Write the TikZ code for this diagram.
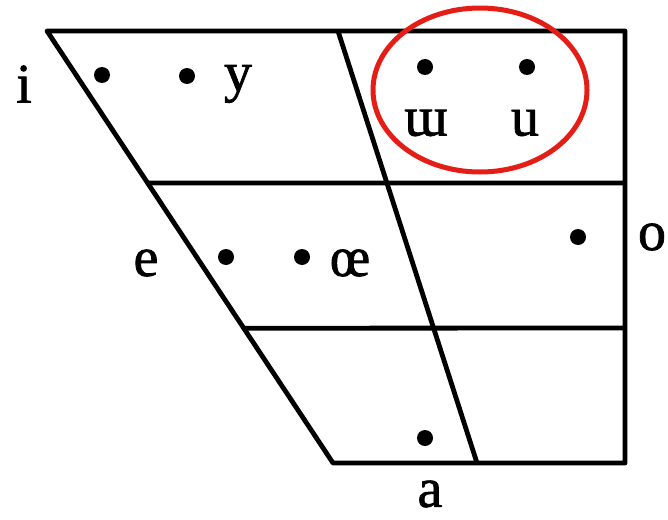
\documentclass[tikz,border=0pt]{standalone}
\usepackage{fontspec}
\setmainfont{Liberation Serif}
\newfontfamily\chartfont{Liberation Serif}[FakeBold=1.3]
\usetikzlibrary{calc}
\definecolor{ringred}{RGB}{228,30,22}

\begin{document}
\begin{tikzpicture}[x=0.5pt,y=-0.5pt,line join=round,
  chart/.style={line width=2.4pt},
  vowel/.style={inner sep=0pt,font=\chartfont\fontsize{28}{32}\selectfont}]
\useasboundingbox (0,0) rectangle (668,519);
\coordinate (TL) at (47,31);\coordinate (TR) at (625,31);
\coordinate (BR) at (625,463);\coordinate (BL) at (333,463);
\coordinate (MT) at (338,31);\coordinate (MB) at (477,463);
\coordinate (L1) at ($(TL)!0.352!(BL)$);\coordinate (R1) at (625,183);
\coordinate (L2) at ($(TL)!0.688!(BL)$);\coordinate (R2) at (625,328);
\draw[chart] (TL)--(TR)--(BR)--(BL)--cycle;
\draw[chart] (MT)--(MB);
\draw[chart] (L1)--(R1);\draw[chart] (L2)--(R2);
% vowel points
\fill (102,75) circle(8);\fill (187,76) circle(8);
\fill (425,67) circle(8);\fill (527,67) circle(8);
\fill (226,257) circle(8);\fill (302,257) circle(8);
\fill (578,237) circle(8);\fill (425,438) circle(8);
\node[vowel] (i) at (24,84) {i};\node[vowel] (y) at (238,84) {y};
\node[vowel] (uu) at (426,123) {ɯ};\node[vowel] (u) at (525,123) {u};
\node[vowel] (e) at (146,263) {e};\node[vowel] (oe) at (350,263) {œ};
\node[vowel] (o) at (652,237) {o};\node[vowel] (a) at (430,494) {a};
\draw[line width=2.5pt,ringred] (480,90) ellipse [x radius=107,y radius=82];
\end{tikzpicture}
\end{document}
